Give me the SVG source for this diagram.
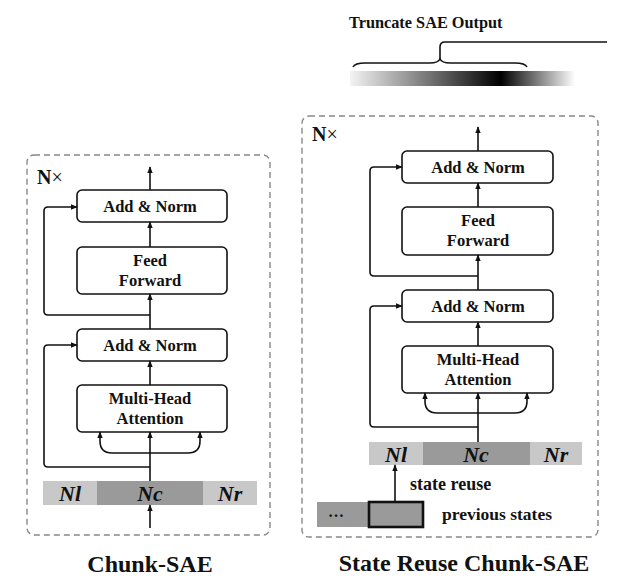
<svg xmlns="http://www.w3.org/2000/svg" width="633" height="583" viewBox="0 0 633 583">
<style>
text{font-family:'Liberation Serif','DejaVu Serif','Times New Roman',serif;font-weight:bold;fill:#111}
.box{fill:#fff;stroke:#111;stroke-width:1.6}
.lbl{font-size:16.5px;text-anchor:middle}
.frame{fill:none;stroke:#888;stroke-width:1.4;stroke-dasharray:6 4}
.ln{fill:none;stroke:#111;stroke-width:1.6}
.nx{font-size:20px}
.seg{font-size:22px;font-style:italic;text-anchor:middle}
.cap{font-size:24px;text-anchor:middle}
.lt{fill:#c8c8c8}
.dk{fill:#9a9a9a}
</style>
<defs>
<marker id="ah" viewBox="0 0 10 10" refX="9" refY="5" markerWidth="7" markerHeight="7" markerUnits="userSpaceOnUse" orient="auto">
<path d="M0,1 L10,5 L0,9 Z" fill="#111"/>
</marker>
<linearGradient id="grad" x1="0" y1="0" x2="1" y2="0">
<stop offset="0" stop-color="#f4f4f4"/>
<stop offset="0.67" stop-color="#000"/>
<stop offset="1" stop-color="#fff"/>
</linearGradient>
</defs>

<g id="truncate">
<text x="349" y="28" style="font-size:16.3px">Truncate SAE Output</text>
<rect x="350" y="71" width="225" height="15" fill="url(#grad)"/>
<path class="ln" d="M353,67 Q355,63 365,63 L430,63 Q438,63 440,59 Q442,63 450,63 L515,63 Q525,63 527,67"/>
<path class="ln" d="M440,59 L440,47 Q440,42 445,42 L607,42"/>
</g>

<g id="left-frame">
<rect class="frame" x="27" y="155" width="243" height="380" rx="7"/>
<text class="nx" x="37" y="184">N<tspan style="font-weight:normal">×</tspan></text>
</g>
<g id="l-addnorm2"><rect class="box" x="77" y="190" width="150" height="32" rx="5"/><text class="lbl" x="150" y="212">Add &amp; Norm</text></g>
<g id="l-ff"><rect class="box" x="77" y="247" width="150" height="47" rx="5"/><text class="lbl" x="150" y="266">Feed</text><text class="lbl" x="150" y="286">Forward</text></g>
<g id="l-addnorm1"><rect class="box" x="77" y="329" width="150" height="32" rx="5"/><text class="lbl" x="150" y="351">Add &amp; Norm</text></g>
<g id="l-mha"><rect class="box" x="77" y="385" width="150" height="47" rx="5"/><text class="lbl" x="150" y="404">Multi-Head</text><text class="lbl" x="150" y="424">Attention</text></g>
<g id="l-chunk">
<rect class="lt" x="43" y="481" width="54" height="24"/>
<rect class="dk" x="97" y="481" width="106" height="24"/>
<rect class="lt" x="203" y="481" width="54" height="24"/>
<text class="seg" x="70" y="501">Nl</text>
<text class="seg" x="150" y="501">Nc</text>
<text class="seg" x="230" y="501">Nr</text>
</g>
<text class="cap" x="150" y="572">Chunk-SAE</text>

<g id="right-frame">
<rect class="frame" x="302" y="116" width="296" height="421" rx="7"/>
<text class="nx" x="312" y="141">N<tspan style="font-weight:normal">×</tspan></text>
</g>
<g id="r-addnorm2"><rect class="box" x="402" y="151" width="151" height="32" rx="5"/><text class="lbl" x="478" y="173">Add &amp; Norm</text></g>
<g id="r-ff"><rect class="box" x="402" y="207" width="151" height="48" rx="5"/><text class="lbl" x="478" y="226">Feed</text><text class="lbl" x="478" y="246">Forward</text></g>
<g id="r-addnorm1"><rect class="box" x="402" y="290" width="151" height="32" rx="5"/><text class="lbl" x="478" y="312">Add &amp; Norm</text></g>
<g id="r-mha"><rect class="box" x="402" y="346" width="151" height="47" rx="5"/><text class="lbl" x="478" y="365">Multi-Head</text><text class="lbl" x="478" y="385">Attention</text></g>
<g id="r-chunk">
<rect class="lt" x="369" y="442" width="54" height="23"/>
<rect class="dk" x="423" y="442" width="107" height="23"/>
<rect class="lt" x="530" y="442" width="52" height="23"/>
<text class="seg" x="396" y="462">Nl</text>
<text class="seg" x="476" y="462">Nc</text>
<text class="seg" x="556" y="462">Nr</text>
</g>
<g id="r-prev">
<rect class="dk" x="317" y="502" width="52" height="25"/>
<text x="336" y="517" style="font-size:16px;text-anchor:middle">…</text>
<rect x="369" y="502" width="54" height="25" fill="#9a9a9a" stroke="#111" stroke-width="2.6"/>
<text x="442" y="520" style="font-size:17.5px">previous states</text>
<text x="410" y="490" style="font-size:18px">state reuse</text>
</g>
<text class="cap" x="464" y="571">State Reuse Chunk-SAE</text>

<g id="connectors">
<line class="ln" x1="150" y1="190" x2="150" y2="167" marker-end="url(#ah)"/>
<line class="ln" x1="150" y1="247" x2="150" y2="222" marker-end="url(#ah)"/>
<line class="ln" x1="150" y1="329" x2="150" y2="294" marker-end="url(#ah)"/>
<path class="ln" d="M150,315 L48,315 Q44,315 44,311 L44,211 Q44,207 48,207 L77,207" marker-end="url(#ah)"/>
<line class="ln" x1="150" y1="385" x2="150" y2="361" marker-end="url(#ah)"/>
<line class="ln" x1="150" y1="481" x2="150" y2="432" marker-end="url(#ah)"/>
<path class="ln" d="M150,453 L112,453 Q100,453 100,441 L100,432" marker-end="url(#ah)"/>
<path class="ln" d="M150,453 L188,453 Q200,453 200,441 L200,432" marker-end="url(#ah)"/>
<path class="ln" d="M150,467 L48,467 Q44,467 44,463 L44,349 Q44,345 48,345 L77,345" marker-end="url(#ah)"/>
<line class="ln" x1="150" y1="528" x2="150" y2="505" marker-end="url(#ah)"/>
<line class="ln" x1="478" y1="151" x2="478" y2="127" marker-end="url(#ah)"/>
<line class="ln" x1="478" y1="207" x2="478" y2="183" marker-end="url(#ah)"/>
<line class="ln" x1="478" y1="290" x2="478" y2="255" marker-end="url(#ah)"/>
<path class="ln" d="M478,276 L374,276 Q370,276 370,272 L370,171 Q370,167 374,167 L402,167" marker-end="url(#ah)"/>
<line class="ln" x1="478" y1="346" x2="478" y2="322" marker-end="url(#ah)"/>
<line class="ln" x1="478" y1="442" x2="478" y2="393" marker-end="url(#ah)"/>
<path class="ln" d="M478,413 L437,413 Q425,413 425,401 L425,393" marker-end="url(#ah)"/>
<path class="ln" d="M478,413 L515,413 Q527,413 527,401 L527,393" marker-end="url(#ah)"/>
<path class="ln" d="M478,427 L374,427 Q370,427 370,423 L370,310 Q370,306 374,306 L402,306" marker-end="url(#ah)"/>
<line class="ln" x1="395" y1="502" x2="395" y2="465" marker-end="url(#ah)"/>
</g>
</svg>
